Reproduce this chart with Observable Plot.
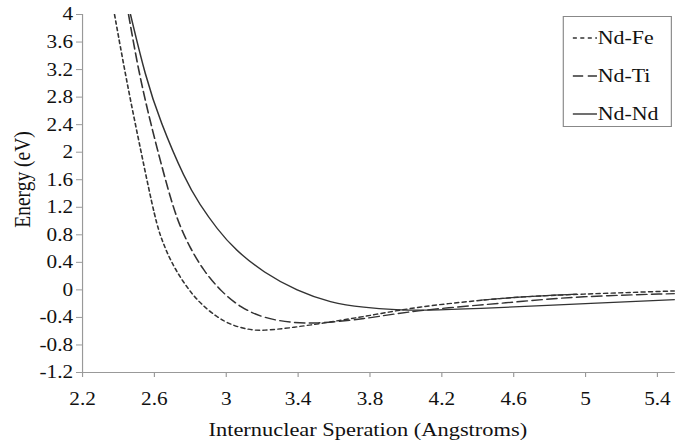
<!DOCTYPE html>
<html>
<head>
<meta charset="utf-8">
<script src="https://cdn.jsdelivr.net/npm/d3@7"></script>
<script src="https://cdn.jsdelivr.net/npm/@observablehq/plot@0.6"></script>
<style>
  html, body { margin: 0; padding: 0; background: #fff; }
  #chart { width: 684px; height: 447px; overflow: hidden; }
</style>
</head>
<body>
<div id="chart"></div>
<script>
// ---- Data ----
const seriesNames = ["Nd-Fe", "Nd-Ti", "Nd-Nd"];

const feX = [2.378, 2.421, 2.467, 2.53, 2.606, 2.643, 2.69, 2.755, 2.838, 2.95, 3.03, 3.117, 3.2, 3.376, 3.562, 3.84, 4.063, 4.415, 4.637, 4.953, 5.5];
const feY = [4.0, 3.38, 2.75, 1.95, 1.004, 0.713, 0.422, 0.131, -0.16, -0.403, -0.51, -0.575, -0.597, -0.545, -0.475, -0.354, -0.247, -0.15, -0.10, -0.063, -0.015];

const tiX = [2.456, 2.51, 2.575, 2.662, 2.727, 2.80, 2.875, 2.968, 3.079, 3.209, 3.357, 3.5, 3.7, 3.84, 4.042, 4.415, 4.637, 4.95, 5.5];
const tiY = [4.0, 3.2, 2.458, 1.585, 1.004, 0.6, 0.276, -0.015, -0.258, -0.41, -0.476, -0.49, -0.44, -0.39, -0.305, -0.218, -0.17, -0.095, -0.054];

const ndX = [2.467, 2.55, 2.63, 2.773, 2.85, 2.95, 3.05, 3.209, 3.395, 3.58, 3.765, 3.951, 4.1, 4.415, 4.749, 5.5];
const ndY = [4.0, 3.1, 2.458, 1.585, 1.25, 0.88, 0.58, 0.25, -0.015, -0.185, -0.258, -0.291, -0.30, -0.272, -0.23, -0.14];

// short solid segment visible on top of the Nd-Fe curve between ~4.4 and 5.0
const extraX = [4.42, 4.637, 4.95];
const extraY = [-0.148, -0.10, -0.063];

const xTicks = [2.2, 2.6, 3, 3.4, 3.8, 4.2, 4.6, 5, 5.4];
const yTicks = [-1.2, -0.8, -0.4, 0, 0.4, 0.8, 1.2, 1.6, 2, 2.4, 2.8, 3.2, 3.6, 4];

const xTitle = "Internuclear Speration (Angstroms)";
const yTitle = "Energy (eV)";

// ---- Build ----
const toPts = (xs, ys) => xs.map((x, i) => ({x, y: ys[i]}));
const fe = toPts(feX, feY);
const ti = toPts(tiX, tiY);
const nd = toPts(ndX, ndY);
const extra = toPts(extraX, extraY);

const S = 1.15;              // horizontal stretch of the reference image
const W = Math.round(684 / S);
const H = 447;
const FONT = "'Liberation Serif', 'Times New Roman', serif";
const lineColor = "#333";
const dashes = {"Nd-Fe": "3.5,3", "Nd-Ti": "9,4", "Nd-Nd": null};

const chart = Plot.plot({
  width: W,
  height: H,
  marginTop: 14,
  marginRight: 8,
  marginBottom: 75,
  marginLeft: 71.3,
  style: {fontFamily: FONT, fontSize: "18.5px", background: "#fff", color: "#111"},
  x: {domain: [2.2, 5.5]},
  y: {domain: [-1.2, 4]},
  marks: [
    Plot.axisX({ticks: xTicks, tickSize: 5, tickPadding: 14, tickFormat: d => String(d), label: null, stroke: "#999", fill: "#111", fontSize: 18.5}),
    Plot.axisY({ticks: yTicks, tickSize: 5.2, tickPadding: 3, tickFormat: d => String(d), label: null, stroke: "#999", fill: "#111", fontSize: 18.5}),
    Plot.ruleX([2.2], {stroke: "#999"}),
    Plot.ruleY([-1.2], {stroke: "#999"}),
    Plot.line(fe, {x: "x", y: "y", stroke: lineColor, strokeWidth: 1.4, strokeDasharray: dashes["Nd-Fe"], curve: "basis", clip: true}),
    Plot.line(ti, {x: "x", y: "y", stroke: lineColor, strokeWidth: 1.4, strokeDasharray: dashes["Nd-Ti"], curve: "basis", clip: true}),
    Plot.line(nd, {x: "x", y: "y", stroke: lineColor, strokeWidth: 1.3, curve: "basis", clip: true}),
    Plot.line(extra, {x: "x", y: "y", stroke: lineColor, strokeWidth: 1.2, curve: "basis", clip: true}),
    Plot.text([xTitle], {text: d => d, frameAnchor: "bottom", textAnchor: "middle", lineAnchor: "bottom", dx: -9.7, dy: 63, fontSize: 19.5, fill: "#111"}),
    Plot.text([yTitle], {text: d => d, frameAnchor: "left", textAnchor: "middle", lineAnchor: "middle", dx: -52, dy: -14, rotate: -90, fontSize: 19.5, fill: "#111"})
  ]
});

// legend (inside the plot area, top right)
const svg = d3.select(chart);
const lg = svg.append("g").attr("class", "legend");
const lx = 490, ly = 16.5, lw = 94, lh = 110;
lg.append("rect").attr("x", lx).attr("y", ly).attr("width", lw).attr("height", lh)
  .attr("fill", "#fff").attr("stroke", "#888").attr("stroke-width", 1);
const rowY = [38, 76, 114];
seriesNames.forEach((name, i) => {
  lg.append("line").attr("x1", 498.3).attr("x2", 519.3).attr("y1", rowY[i]).attr("y2", rowY[i])
    .attr("stroke", lineColor).attr("stroke-width", 1.4)
    .attr("stroke-dasharray", dashes[name]);
  lg.append("text").attr("x", 520).attr("y", rowY[i]).attr("dy", "0.33em")
    .attr("text-anchor", "start")
    .attr("font-size", 19).attr("fill", "#111")
    .attr("font-family", FONT)
    .text(name);
});

// stretch horizontally to the reference's aspect
chart.setAttribute("width", 684);
chart.setAttribute("height", H);
chart.setAttribute("preserveAspectRatio", "none");
chart.style.maxWidth = "none";
chart.style.width = "684px";
chart.style.height = H + "px";

document.getElementById("chart").appendChild(chart);
</script>
</body>
</html>
